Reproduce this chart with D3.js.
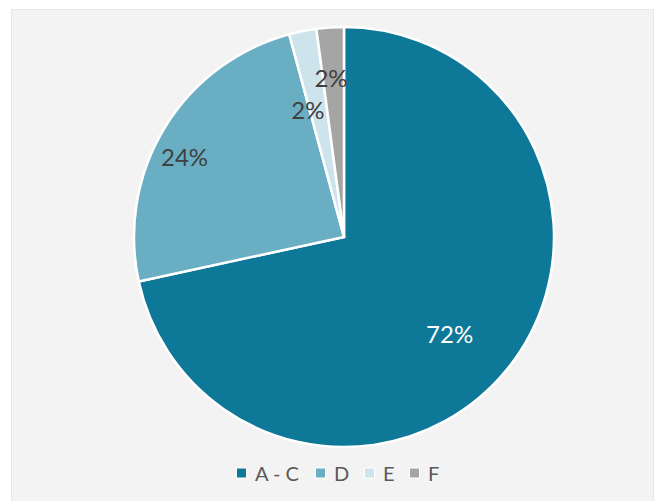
<!DOCTYPE html>
<html>
<head>
<meta charset="utf-8">
<script src="https://cdn.jsdelivr.net/npm/d3@7"></script>
<style>
  body { margin: 0; background: #fff; }
  svg { display: block; font-family: Lato, "Open Sans", sans-serif; }
</style>
</head>
<body>
<svg id="chart" width="659" height="501"></svg>
<script>
const categories = ['A - C', 'D', 'E', 'F'];
const values = [71.6, 24.2, 2.1, 2.1];
const colors = ['#0e7898', '#6aaec3', '#cde4ec', '#a5a5a5'];

const cx = 344, cy = 237, R = 210;

const svg = d3.select('#chart');

// panel background
svg.append('rect')
  .attr('x', 11.5).attr('y', 9.5)
  .attr('width', 642).attr('height', 492)
  .attr('fill', '#f3f3f3')
  .attr('stroke', '#e6e6e6');

const data = categories.map((c, i) => ({ name: c, value: values[i], color: colors[i] }));

const pie = d3.pie().sort(null).value(d => d.value);
const arc = d3.arc().innerRadius(0).outerRadius(R);
const arcs = pie(data);

const g = svg.append('g').attr('transform', `translate(${cx},${cy})`);

g.selectAll('path')
  .data(arcs)
  .enter()
  .append('path')
  .attr('d', arc)
  .attr('fill', d => d.data.color)
  .attr('stroke', '#fff')
  .attr('stroke-width', 2.5)
  .attr('stroke-linejoin', 'miter');

// label placement tweaks (fraction of radius, angle nudge in degrees)
const labelR = [0.68, 0.85, 0.63, 0.76];
const labelNudge = [3.4, -4.6, -4.5, -0.9];
const fmt = d3.format('.0f');

g.selectAll('text.lbl')
  .data(arcs)
  .enter()
  .append('text')
  .attr('class', 'lbl')
  .attr('transform', (d, i) => {
    const a = (d.startAngle + d.endAngle) / 2 + labelNudge[i] * Math.PI / 180;
    const r = R * labelR[i];
    return `translate(${r * Math.sin(a)},${-r * Math.cos(a)})`;
  })
  .attr('text-anchor', 'middle')
  .attr('dominant-baseline', 'central')
  .attr('font-size', 24)
  .attr('fill', (d, i) => i === 0 ? '#ffffff' : '#404040')
  .text(d => fmt(d.data.value) + '%');

// legend
const legend = svg.append('g').attr('transform', 'translate(0,473)');
const legendX = [237, 316, 365, 410];
const item = legend.selectAll('g')
  .data(data)
  .enter()
  .append('g')
  .attr('transform', (d, i) => `translate(${legendX[i]},0)`);

item.append('rect')
  .attr('x', -1).attr('y', -5.5)
  .attr('width', 11).attr('height', 11)
  .attr('fill', '#fff');

item.append('rect')
  .attr('x', 0).attr('y', -4.5)
  .attr('width', 9).attr('height', 9)
  .attr('fill', d => d.color);

item.append('text')
  .attr('x', 18)
  .attr('dominant-baseline', 'central')
  .attr('font-size', 20)
  .attr('fill', '#595959')
  .text(d => d.name);
</script>
</body>
</html>
